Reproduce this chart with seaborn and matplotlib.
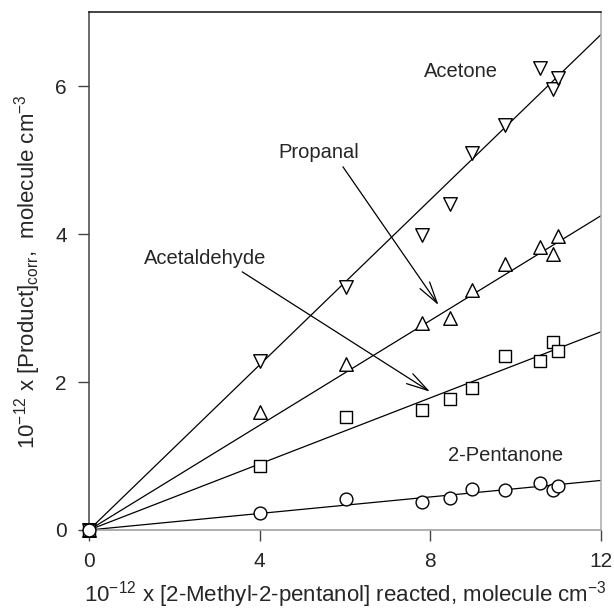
import matplotlib
matplotlib.use("Agg")
import matplotlib.pyplot as plt
import seaborn as sns
import pandas as pd

# ---- data ----
reacted = [0, 4.00, 6.02, 7.80, 8.47, 8.98, 9.75, 10.56, 10.88, 10.99]
acetone = [0, 2.29, 3.29, 3.99, 4.41, 5.09, 5.47, 6.24, 5.96, 6.11]
propanal = [0, 1.59, 2.24, 2.80, 2.86, 3.24, 3.60, 3.82, 3.73, 3.97]
acetaldehyde = [0, 0.87, 1.53, 1.62, 1.77, 1.92, 2.35, 2.28, 2.54, 2.42]
pentanone = [0, 0.23, 0.42, 0.38, 0.43, 0.56, 0.54, 0.64, 0.54, 0.60]

fit_x = [0, 12]
fit_acetone = [0, 6.70]
fit_propanal = [0, 4.25]
fit_acetaldehyde = [0, 2.68]
fit_pentanone = [0, 0.67]

x_ticks = [0, 4, 8, 12]
y_ticks = [0, 2, 4, 6]

sns.set_theme(style="white")
plt.rcParams['font.family'] = ['Liberation Sans', 'DejaVu Sans']
plt.rcParams['mathtext.default'] = 'regular'

fig = plt.figure(figsize=(6.14, 6.11), dpi=100)
ax = fig.add_axes([0.145, 0.1326, 0.834, 0.8474])

series = [
    ("Acetone", acetone, fit_acetone, "v", 95),
    ("Propanal", propanal, fit_propanal, "^", 95),
    ("Acetaldehyde", acetaldehyde, fit_acetaldehyde, "s", 80),
    ("2-Pentanone", pentanone, fit_pentanone, "o", 85),
]

for name, ys, fy, mk, s in series:
    sns.lineplot(x=fit_x, y=fy, ax=ax, color="black", lw=0.9, zorder=2)
    sns.scatterplot(x=reacted, y=ys, ax=ax, marker=mk, s=s,
                    facecolor="white", edgecolor="black", linewidth=1.0,
                    zorder=3, clip_on=False)

ax.set_xlim(0, 12)
ax.set_ylim(0, 7)
ax.set_xticks(x_ticks)
ax.set_yticks(y_ticks)
ax.tick_params(axis="both", direction="out", length=8, width=1, color="#444444",
               labelsize=15, pad=8, bottom=True, left=True)

ax.spines["left"].set_color("#444444")
ax.spines["bottom"].set_color("#999999")
ax.spines["right"].set_color("#aaaaaa")
ax.spines["top"].set_color("#111111")
for sp in ax.spines.values():
    sp.set_linewidth(1.1)

ax.set_xlabel("10$^{-12}$ x [2-Methyl-2-pentanol] reacted, molecule cm$^{-3}$",
              fontsize=16, labelpad=6)
ax.set_ylabel("10$^{-12}$ x [Product]$_{corr}$,  molecule cm$^{-3}$",
              fontsize=16, labelpad=9)

ax.text(8.71, 6.20, "Acetone", fontsize=14.5, ha="center", va="center")
ax.text(9.75, 1.01, "2-Pentanone", fontsize=14.5, ha="center", va="center")
ax.text(5.38, 5.10, "Propanal", fontsize=14.5, ha="center", va="center")
ax.text(2.72, 3.67, "Acetaldehyde", fontsize=14.5, ha="center", va="center")

arrow = dict(arrowstyle="->,head_length=1.3,head_width=0.35", color="black", lw=0.9,
             shrinkA=0, shrinkB=0)
ax.annotate("", xy=(8.19, 3.04), xytext=(5.95, 4.91), arrowprops=arrow)
ax.annotate("", xy=(7.99, 1.87), xytext=(3.59, 3.49), arrowprops=arrow)

ax.grid(False)
fig.savefig("out.png", dpi=100)
